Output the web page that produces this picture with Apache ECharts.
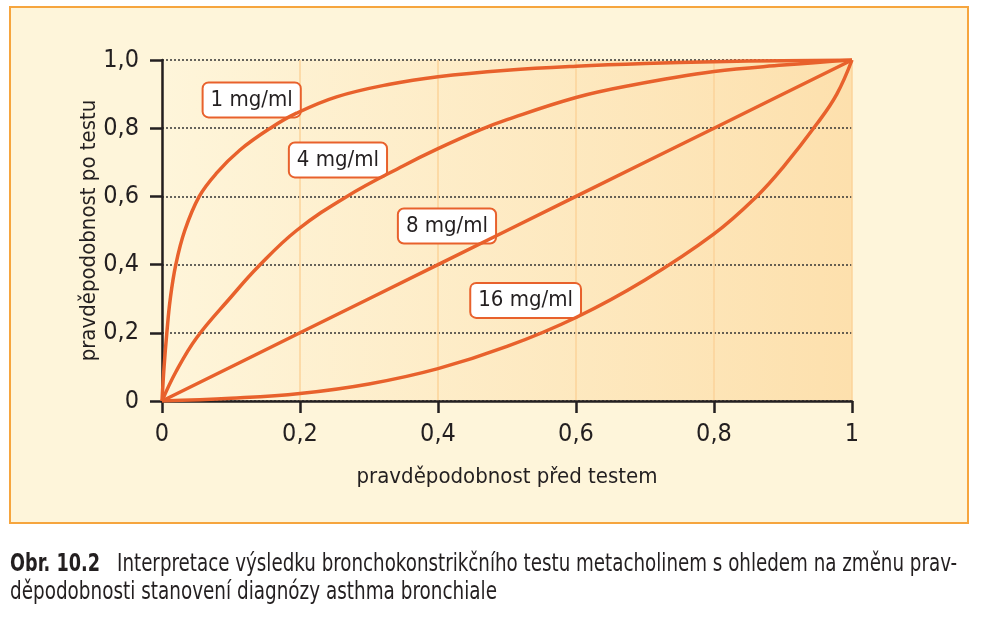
<!DOCTYPE html>
<html>
<head>
<meta charset="utf-8">
<script src="https://cdn.jsdelivr.net/npm/echarts@6/dist/echarts.min.js"></script>
<style>
html,body{margin:0;padding:0;background:#fff;}
#chart{width:984px;height:621px;}
</style>
</head>
<body>
<div id="chart"></div>
<script>
// ---- data ----
const xTickLabels = ['0', '0,2', '0,4', '0,6', '0,8', '1'];
const yTickLabels = ['0', '0,2', '0,4', '0,6', '0,8', '1,0'];
const xAxisName = 'pravděpodobnost před testem';
const yAxisName = 'pravděpodobnost po testu';
const seriesNames = ['1 mg/ml', '4 mg/ml', '8 mg/ml', '16 mg/ml'];
const curve1 = [[0,0],[0.003,0.1],[0.007,0.2],[0.012,0.3],[0.02,0.4],[0.033,0.5],[0.054,0.6],[0.079,0.668],[0.113,0.736],[0.157,0.8],[0.195,0.844],[0.253,0.892],[0.33,0.929],[0.4,0.951],[0.5,0.970],[0.6,0.982],[0.7,0.990],[0.8,0.995],[0.9,0.998],[1,1]];
const curve4 = [[0,0],[0.02,0.085],[0.05,0.185],[0.1,0.305],[0.14,0.395],[0.195,0.5],[0.268,0.6],[0.35,0.69],[0.4,0.74],[0.461,0.795],[0.5,0.825],[0.6,0.89],[0.678,0.925],[0.8,0.966],[0.9,0.985],[1,1]];
const curve8 = [[0,0],[0.2,0.2],[0.4,0.4],[0.6,0.6],[0.8,0.8],[1,1]];
const curve16 = [[0,0],[0.1,0.008],[0.2,0.022],[0.3,0.05],[0.4,0.095],[0.5,0.16],[0.6,0.245],[0.7,0.355],[0.8,0.49],[0.862,0.6],[0.9,0.685],[0.95,0.815],[0.978,0.9],[1,1]];
const labelPositions = [[0.130,0.883],[0.255,0.707],[0.413,0.513],[0.527,0.295]];
const captionLabel = 'Obr. 10.2';
const captionLine1 = 'Interpretace výsledku bronchokonstrikčního testu metacholinem s ohledem na změnu prav-';
const captionLine2 = 'děpodobnosti stanovení diagnózy asthma bronchiale';

// ---- chart ----
const FONT = "'DejaVu Sans Condensed','DejaVu Sans',sans-serif";
const LINE = '#e8612c';
const INK = '#231f20';
const curves = [curve1, curve4, curve8, curve16];

// measure caption text so it can be condensed to the reference widths
const mctx = document.createElement('canvas').getContext('2d');
function textWidth(t, size, weight) {
  mctx.font = (weight || 'normal') + ' ' + size + 'px ' + FONT;
  return mctx.measureText(t).width;
}
const CAP = 25;
const sLab = 90 / textWidth(captionLabel, CAP, 'bold');
const sL1 = 840 / textWidth(captionLine1, CAP);
const sL2 = 487 / textWidth(captionLine2, CAP);

const chart = echarts.init(document.getElementById('chart'), null, {renderer: 'canvas'});

const series = curves.map((c, i) => ({
  name: seriesNames[i],
  type: 'line',
  data: c,
  smooth: 0.4,
  showSymbol: false,
  symbol: 'none',
  lineStyle: {color: LINE, width: 3.5},
  z: 5,
  markPoint: {
    symbol: 'rect',
    symbolSize: 0.1,
    silent: true,
    data: [{
      coord: labelPositions[i],
      value: seriesNames[i],
      label: {
        show: true,
        position: 'inside',
        formatter: seriesNames[i],
        fontFamily: FONT,
        fontSize: 22,
        color: INK,
        backgroundColor: '#ffffff',
        borderColor: LINE,
        borderWidth: 2,
        borderRadius: 5,
        padding: [6, 7, 5, 7]
      }
    }]
  }
}));

const option = {
  animation: false,
  backgroundColor: '#ffffff',
  graphic: [
    {type: 'rect', z: -10, shape: {x: 10, y: 7, width: 958, height: 516},
     style: {fill: '#fef5da', stroke: '#f6a53e', lineWidth: 2}},
    {type: 'text', x: 10, y: 552, scaleX: sLab, z: 10,
     style: {text: captionLabel, fontFamily: FONT, fontWeight: 'bold', fontSize: CAP, fill: INK}},
    {type: 'text', x: 117, y: 552, scaleX: sL1, z: 10,
     style: {text: captionLine1, fontFamily: FONT, fontSize: CAP, fill: INK}},
    {type: 'text', x: 10, y: 580, scaleX: sL2, z: 10,
     style: {text: captionLine2, fontFamily: FONT, fontSize: CAP, fill: INK}}
  ],
  grid: {
    left: 162, right: 132, top: 60, bottom: 220,
    show: true,
    borderWidth: 0,
    backgroundColor: new echarts.graphic.LinearGradient(0, 0, 1, 0, [
      {offset: 0, color: '#fef5da'},
      {offset: 1, color: '#fde0ad'}
    ])
  },
  xAxis: {
    type: 'value', min: 0, max: 1, interval: 0.2,
    name: xAxisName, nameLocation: 'middle', nameGap: 65, nameMoveOverlap: false,
    nameTextStyle: {fontFamily: FONT, fontSize: 22, color: INK},
    axisLine: {show: true, lineStyle: {color: INK, width: 2.5}},
    axisTick: {show: true, length: 12, lineStyle: {color: INK, width: 2.5}},
    axisLabel: {
      margin: 21, fontFamily: FONT, fontSize: 25, color: INK,
      formatter: v => xTickLabels[Math.round(v / 0.2)]
    },
    splitLine: {show: true, lineStyle: {color: '#fbd39a', width: 1.5}}
  },
  yAxis: {
    type: 'value', min: 0, max: 1, interval: 0.2,
    name: yAxisName, nameLocation: 'middle', nameGap: 62, nameRotate: 90, nameMoveOverlap: false,
    nameTextStyle: {fontFamily: FONT, fontSize: 22, color: INK},
    axisLine: {show: true, lineStyle: {color: INK, width: 2.5}},
    axisTick: {show: true, length: 12, lineStyle: {color: INK, width: 2.5}},
    axisLabel: {
      margin: 23, fontFamily: FONT, fontSize: 25, color: INK,
      formatter: v => yTickLabels[Math.round(v / 0.2)]
    },
    splitLine: {show: true, lineStyle: {color: '#333333', width: 1.5, type: [2, 2]}}
  },
  series: series
};
chart.setOption(option);
</script>
</body>
</html>
